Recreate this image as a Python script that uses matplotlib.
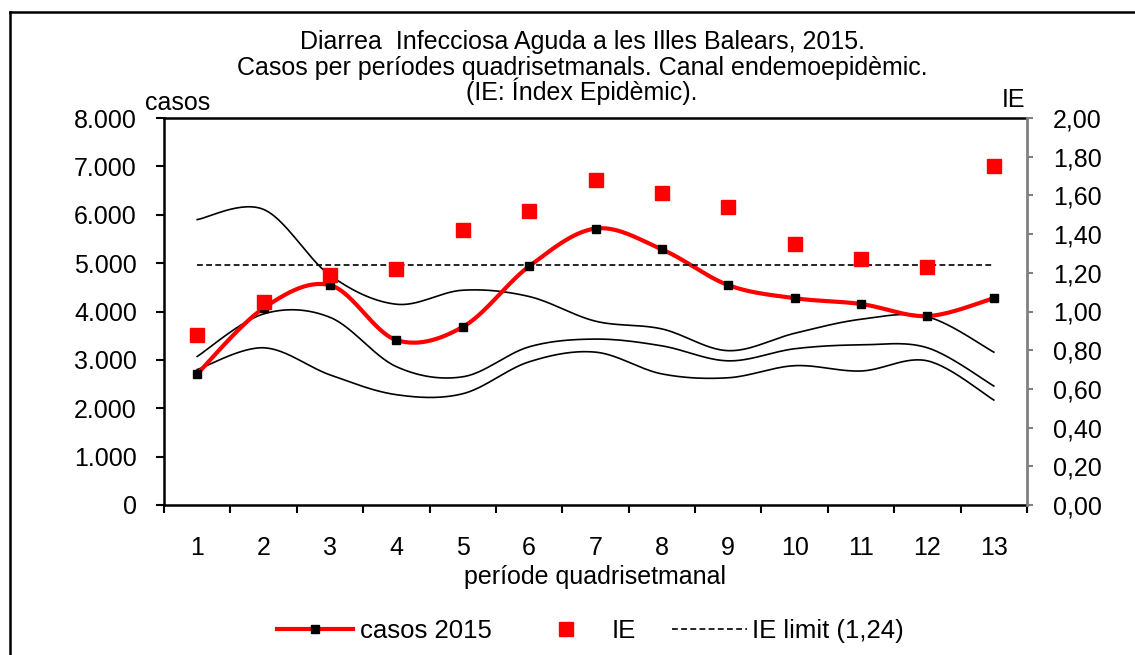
import numpy as np
import matplotlib
matplotlib.use("Agg")
import matplotlib.pyplot as plt
from matplotlib.lines import Line2D
from matplotlib.ticker import FixedLocator, FuncFormatter

plt.rcParams['font.family'] = ['Liberation Sans', 'DejaVu Sans']

periods = list(range(1, 14))
casos_2015 = [2710, 4070, 4545, 3410, 3680, 4935, 5715, 5285, 4545, 4275, 4155, 3905, 4275]
ie = [0.88, 1.05, 1.19, 1.22, 1.42, 1.52, 1.68, 1.61, 1.54, 1.35, 1.27, 1.23, 1.75]
ie_limit = 1.24
canal_upper = [5900, 6110, 4750, 4150, 4440, 4310, 3800, 3640, 3190, 3550, 3840, 3890, 3160]
canal_mid = [3070, 3950, 3880, 2860, 2650, 3270, 3430, 3290, 2980, 3230, 3310, 3250, 2460]
canal_low = [2800, 3250, 2690, 2280, 2300, 2960, 3160, 2710, 2630, 2880, 2770, 2980, 2170]

title_lines = ["Diarrea  Infecciosa Aguda a les Illes Balears, 2015.",
               "Casos per períodes quadrisetmanals. Canal endemoepidèmic.",
               "(IE: Índex Epidèmic)."]

W, H = 1135, 655


def excel_smooth(x, y, n=30):
    """Bezier smoothing similar to spreadsheet 'smoothed line'."""
    x = np.asarray(x, float)
    y = np.asarray(y, float)
    px, py = [], []
    m = len(x)
    for i in range(m - 1):
        x0, y0 = x[max(i - 1, 0)], y[max(i - 1, 0)]
        x1, y1 = x[i], y[i]
        x2, y2 = x[i + 1], y[i + 1]
        x3, y3 = x[min(i + 2, m - 1)], y[min(i + 2, m - 1)]
        c1x, c1y = x1 + (x2 - x0) / 6, y1 + (y2 - y0) / 6
        c2x, c2y = x2 - (x3 - x1) / 6, y2 - (y3 - y1) / 6
        t = np.linspace(0, 1, n, endpoint=(i == m - 2))
        b0 = (1 - t) ** 3
        b1 = 3 * (1 - t) ** 2 * t
        b2 = 3 * (1 - t) * t ** 2
        b3 = t ** 3
        px.append(b0 * x1 + b1 * c1x + b2 * c2x + b3 * x2)
        py.append(b0 * y1 + b1 * c1y + b2 * c2y + b3 * y2)
    return np.concatenate(px), np.concatenate(py)


fig = plt.figure(figsize=(W / 100, H / 100), dpi=100)
ax = fig.add_axes([164 / W, 1 - 505 / H, (1027 - 164) / W, (505 - 118) / H])
ax2 = ax.twinx()

# outer chart border (only top & left visible)
fig.add_artist(Line2D([10 / W, 10 / W], [0, 1 - 12 / H], color='black', lw=1.8,
                      transform=fig.transFigure))
fig.add_artist(Line2D([10 / W, 1], [1 - 12 / H, 1 - 12 / H], color='black', lw=1.8,
                      transform=fig.transFigure))

for series in (canal_upper, canal_mid, canal_low):
    sx, sy = excel_smooth(periods, series)
    ax.plot(sx, sy, color='black', lw=1.2, zorder=2)

cx, cy = excel_smooth(periods, casos_2015)
ax.plot(cx, cy, color='#ff0000', lw=3, zorder=3, solid_capstyle='round')
ax.plot(periods, casos_2015, linestyle='none', marker='s', markersize=5.5,
        color='black', zorder=4)

dash = (0, (3.5, 2))
ax2.plot(periods, ie, linestyle='none', marker='s', markersize=10, color='#ff0000', zorder=5)
ax2.plot([periods[0], periods[-1]], [ie_limit, ie_limit], color='black', lw=1.2,
         linestyle=dash, zorder=4)

ax.set_xlim(0.5, 13.5)
ax.set_ylim(0, 8000)
ax2.set_ylim(0, 2.0)

ax.set_yticks(np.arange(0, 8001, 1000))
ax.yaxis.set_major_formatter(FuncFormatter(lambda v, p: f"{int(v):,}".replace(",", ".")))
ax2.set_yticks(np.arange(0, 2.001, 0.2))
ax2.yaxis.set_major_formatter(FuncFormatter(lambda v, p: f"{v:.2f}".replace(".", ",")))

ax.set_xticks(periods)
ax.set_xticklabels([str(p) for p in periods])
ax.xaxis.set_minor_locator(FixedLocator(np.arange(0.5, 13.6, 1)))
ax.tick_params(axis='x', which='major', length=0, pad=22, labelsize=18)
ax.tick_params(axis='x', which='minor', length=6, width=1.5, direction='out')
ax.tick_params(axis='y', which='major', length=6, width=1.5, direction='out', pad=13.5,
               labelsize=18)
ax2.tick_params(axis='y', which='major', length=4.5, width=1.5, direction='out', pad=14,
                labelsize=18, color='#808080')

for sp in ('left', 'bottom', 'top'):
    ax.spines[sp].set_linewidth(1.8)
    ax.spines[sp].set_color('black')
ax.spines['right'].set_visible(False)
for sp in ('left', 'bottom', 'top'):
    ax2.spines[sp].set_visible(False)
ax2.spines['right'].set_color('#808080')
ax2.spines['right'].set_linewidth(2)

ax.set_xlabel("període quadrisetmanal", fontsize=18, labelpad=4)

for line, yc in zip(title_lines, (40, 65, 89)):
    fig.text(582 / W, 1 - yc / H, line, ha='center', va='center_baseline', fontsize=18)
fig.text(145 / W, 1 - 103 / H, "casos", ha='left', va='center', fontsize=18)
fig.text(1025 / W, 1 - 100 / H, "IE", ha='right', va='center', fontsize=18)

# legend: three single-entry legends so each key has its own length
fs = 18.5
em = fs * 100 / 72
ly = 1 - 631 / H
entries = [
    (Line2D([], [], color='#ff0000', lw=3, marker='s', markersize=5.5,
            markerfacecolor='black', markeredgecolor='black'),
     "casos 2015", 277, 353, 360),
    (Line2D([], [], color='#ff0000', linestyle='none', marker='s', markersize=10),
     "IE", 540.5, 591.5, 612),
    (Line2D([], [], color='black', lw=1.2, linestyle=dash),
     "IE limit (1,24)", 672, 747, 752),
]
for h, lab, x0, x1, xt in entries:
    leg = fig.legend([h], [lab], loc='center left', bbox_to_anchor=(x0 / W, ly),
                     frameon=False, fontsize=fs, handlelength=(x1 - x0) / em,
                     handletextpad=(xt - x1) / em, borderpad=0, borderaxespad=0)

fig.savefig("out.png", dpi=100)
